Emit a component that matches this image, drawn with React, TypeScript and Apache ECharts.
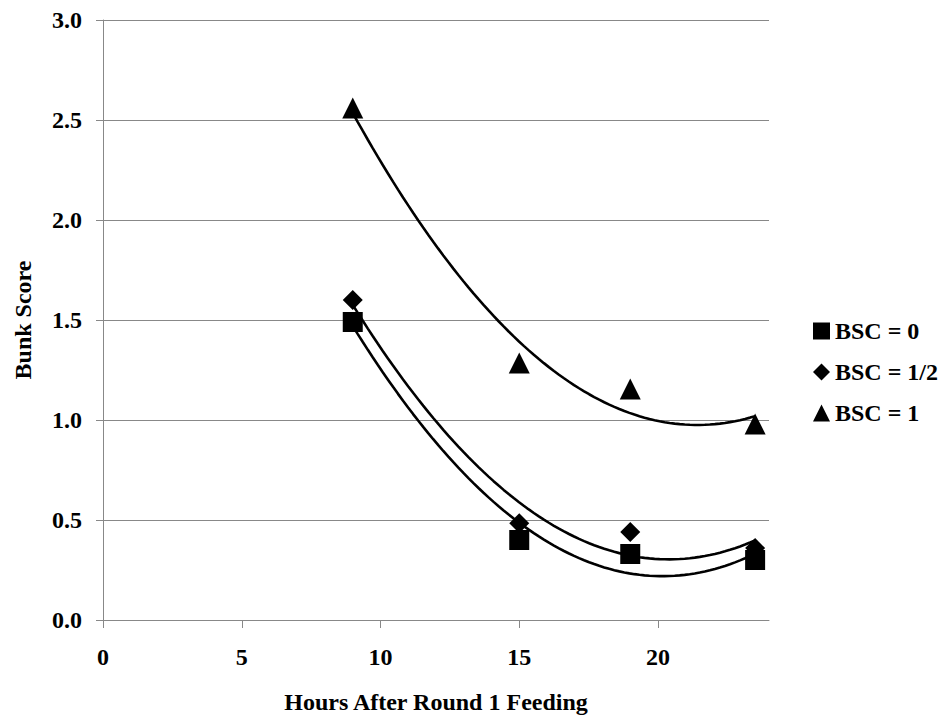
import React, { useEffect, useRef } from "react";
import * as echarts from "echarts";

const hours = [9, 15, 19, 23.5];
const bsc0 = [1.49, 0.4, 0.33, 0.3];
const bscHalf = [1.6, 0.484, 0.44, 0.36];
const bsc1 = [2.56, 1.285, 1.155, 0.98];
const seriesNames = ["BSC = 0", "BSC = 1/2", "BSC = 1"];
const xTicks = [0, 5, 10, 15, 20];

// Excel-style order-2 polynomial trendline (least squares) derived from the data
function quadFit(xs: number[], ys: number[]) {
  const n = xs.length;
  let s0 = n, s1 = 0, s2 = 0, s3 = 0, s4 = 0, t0 = 0, t1 = 0, t2 = 0;
  for (let i = 0; i < n; i++) {
    const x = xs[i], y = ys[i];
    s1 += x; s2 += x * x; s3 += x * x * x; s4 += x * x * x * x;
    t0 += y; t1 += x * y; t2 += x * x * y;
  }
  const M = [
    [s0, s1, s2, t0],
    [s1, s2, s3, t1],
    [s2, s3, s4, t2],
  ];
  for (let c = 0; c < 3; c++) {
    let p = c;
    for (let r = c + 1; r < 3; r++) if (Math.abs(M[r][c]) > Math.abs(M[p][c])) p = r;
    [M[c], M[p]] = [M[p], M[c]];
    for (let r = 0; r < 3; r++) {
      if (r === c) continue;
      const f = M[r][c] / M[c][c];
      for (let k = c; k < 4; k++) M[r][k] -= f * M[c][k];
    }
  }
  const a = M[0][3] / M[0][0], b = M[1][3] / M[1][1], cc = M[2][3] / M[2][2];
  return (x: number) => a + b * x + cc * x * x;
}

function trend(ys: number[]) {
  const f = quadFit(hours, ys);
  const x0 = hours[0], x1 = hours[hours.length - 1];
  const steps = 80;
  const pts: number[][] = [];
  for (let i = 0; i <= steps; i++) {
    const x = x0 + ((x1 - x0) * i) / steps;
    pts.push([x, f(x)]);
  }
  return pts;
}

const FONT = "Liberation Serif";

export default function App() {
  const ref = useRef<HTMLDivElement>(null);
  useEffect(() => {
    document.body.style.margin = "0";
    const chart = echarts.init(ref.current!, null, { renderer: "svg" });
    const symbols = ["rect", "diamond", "triangle"];
    const sizes = [20, 20, 21];
    const datasets = [bsc0, bscHalf, bsc1];
    const scatter = datasets.map((d, i) => ({
      name: seriesNames[i],
      type: "scatter",
      symbol: symbols[i],
      symbolSize: sizes[i],
      itemStyle: { color: "#000", opacity: 1 },
      data: hours.map((h, j) => [h, d[j]]),
      z: 3,
    }));
    const lines = datasets.map((d) => ({
      type: "line",
      data: trend(d),
      showSymbol: false,
      symbol: "none",
      silent: true,
      lineStyle: { color: "#000", width: 2.6 },
      z: 2,
    }));
    chart.setOption({
      animation: false,
      backgroundColor: "#fff",
      textStyle: { fontFamily: FONT },
      grid: {
        left: 103,
        right: 174,
        top: 20,
        bottom: 97,
        containLabel: false,
        outerBoundsMode: "none",
      },
      legend: {
        orient: "vertical",
        left: 808,
        top: 314,
        itemWidth: 17,
        itemHeight: 17,
        itemGap: 17,
        data: seriesNames,
        itemStyle: { opacity: 1 },
        textStyle: { fontFamily: FONT, fontSize: 24, fontWeight: "bold", color: "#000" },
      },
      xAxis: {
        type: "value",
        min: 0,
        max: 24,
        interval: 5,
        name: "Hours After Round 1 Feeding",
        nameLocation: "middle",
        nameGap: 70,
        nameTextStyle: { fontFamily: FONT, fontSize: 24, fontWeight: "bold", color: "#000" },
        axisLine: { show: true, lineStyle: { color: "#888", width: 1 } },
        axisTick: { show: true, length: 8, lineStyle: { color: "#888" }, customValues: xTicks },
        axisLabel: {
          customValues: xTicks,
          margin: 25,
          fontFamily: FONT,
          fontSize: 24,
          fontWeight: "bold",
          color: "#000",
        },
        splitLine: { show: false },
      },
      yAxis: {
        type: "value",
        min: 0,
        max: 3,
        interval: 0.5,
        name: "Bunk Score",
        nameLocation: "middle",
        nameGap: 68,
        nameRotate: 90,
        nameTextStyle: { fontFamily: FONT, fontSize: 24, fontWeight: "bold", color: "#000" },
        axisLine: { show: true, lineStyle: { color: "#888", width: 1 } },
        axisTick: { show: true, length: 7, lineStyle: { color: "#888" } },
        axisLabel: {
          margin: 21,
          formatter: (v: number) => v.toFixed(1),
          fontFamily: FONT,
          fontSize: 24,
          fontWeight: "bold",
          color: "#000",
        },
        splitLine: { show: true, lineStyle: { color: "#888", width: 1 } },
      },
      series: [...lines, ...scatter],
    });
    return () => chart.dispose();
  }, []);
  return <div ref={ref} style={{ width: 943, height: 717 }} />;
}
